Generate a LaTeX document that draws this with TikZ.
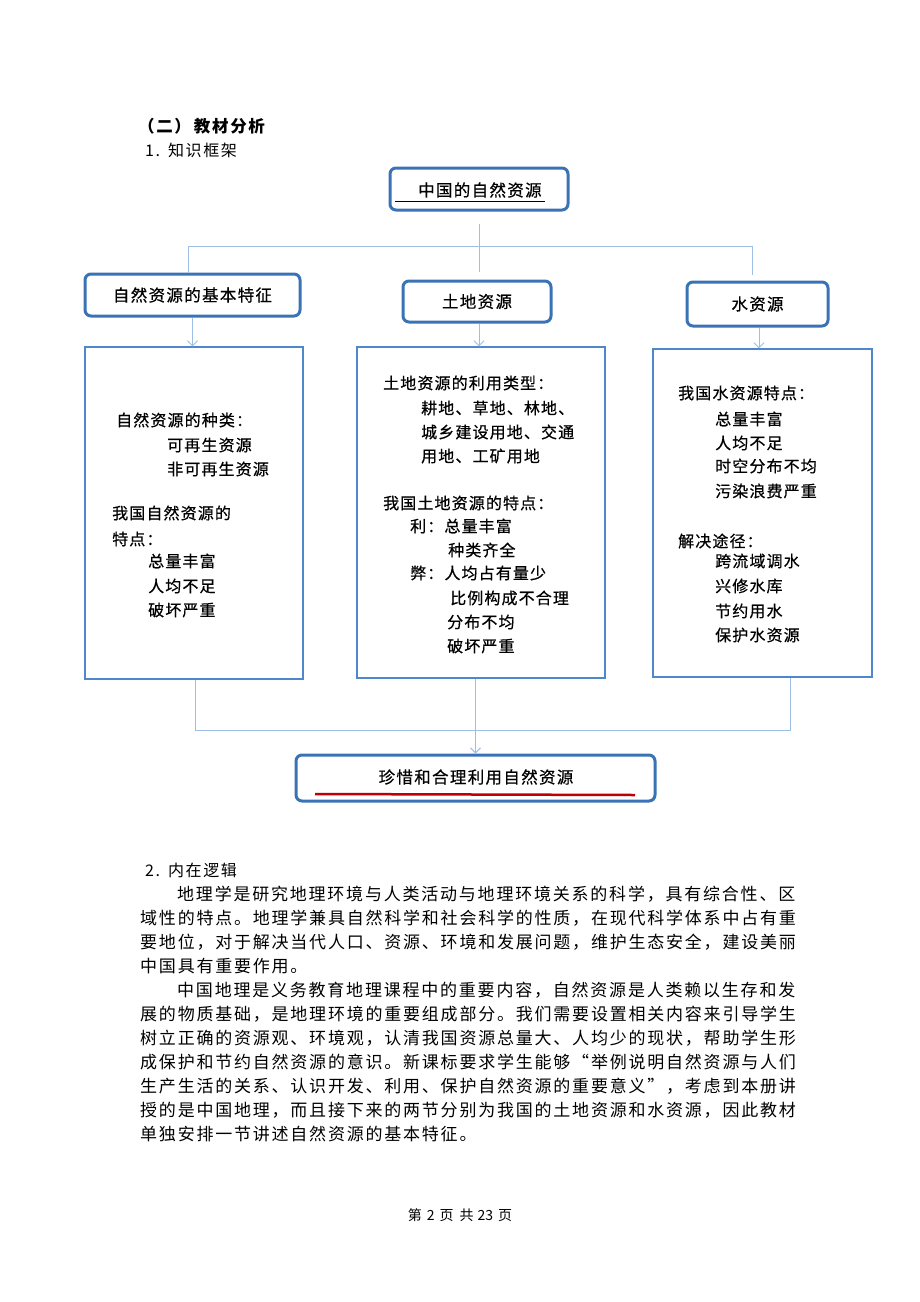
\documentclass[tikz,border=0pt]{standalone}
\usepackage{fontspec}
\setmainfont{Noto Sans CJK SC}
\newfontfamily\hdrfont[LetterSpace=8,FakeBold=0.6]{Noto Sans CJK SC}
\newfontfamily\pnlfont[LetterSpace=7,FakeBold=0.5]{Noto Sans CJK SC}
\newfontfamily\bodyfont[LetterSpace=10.5]{Noto Sans CJK SC}
\newfontfamily\ttlfont[LetterSpace=10]{Noto Sans CJK SC}
\usetikzlibrary{arrows.meta}
\definecolor{hdrblue}{HTML}{3A73B5}
\definecolor{boxblue}{HTML}{4F87CB}
\definecolor{linkblue}{HTML}{9DBFE6}
\definecolor{redline}{HTML}{C00000}
\tikzset{
  hdr/.style={draw=hdrblue, line width=3pt, rounded corners=6pt, fill=white, inner sep=0pt,
    font=\hdrfont\fontsize{16.5}{16.5}\selectfont},
  panel/.style={draw=boxblue, line width=1.4pt, inner sep=0pt},
  link/.style={draw=linkblue, line width=0.9pt},
  arr/.style={link, -{Straight Barb[length=5pt,width=10pt]}},
  ptxt/.style={anchor=west, inner sep=0pt, font=\pnlfont\fontsize{16}{16}\selectfont},
  btxt/.style={anchor=west, inner sep=0pt, font=\bodyfont\fontsize{17}{17}\selectfont},
}
\begin{document}
\begin{tikzpicture}[x=1pt,y=-1pt]
\useasboundingbox[fill=white] (0,0) rectangle (920,1302);

% headings
\node[anchor=west, inner sep=0pt, font=\ttlfont\bfseries\fontsize{16.5}{16.5}\selectfont] (h2) at (138,126) {（二）\hspace{3pt}教材分析};
\node[anchor=west, inner sep=0pt, font=\ttlfont\fontsize{16}{16}\selectfont] (h1) at (145,150) {1.\hspace{8pt}知识框架};

\coordinate (hl) at (188,246);
\coordinate (hr) at (752,246);
\coordinate (bl) at (195,730);
\coordinate (br) at (790,730);
\coordinate (am) at (479,0);
\coordinate (ar) at (759,0);

% header boxes
\node[hdr, minimum width=178pt, minimum height=42pt] (top) at (479,189) {};
\node[anchor=west, inner sep=0pt, font=\hdrfont\fontsize{16.5}{16.5}\selectfont] (toptxt) at (418,190) {中国的自然资源};
\draw[black, line width=0.9pt] (395,201) -- (545,201);

\node[hdr, minimum width=215pt, minimum height=42pt] (left) at (192.5,295) {自然资源的基本特征};
\node[hdr, minimum width=148pt, minimum height=41pt] (mid) at (477,301.5) {土地资源};
\node[hdr, minimum width=141pt, minimum height=44pt] (right) at (757.5,304) {水资源};

\draw[link] ([yshift=-12pt]top.south) -- ([yshift=8pt]mid.north -| top.south);
\draw[link] (left.north -| hl) -- (hl) -- (hr) -- ([yshift=6pt]right.north -| hr);

% panels
\node[panel, minimum width=218pt, minimum height=332pt] (pl) at (194,513) {};
\node[panel, minimum width=248pt, minimum height=331pt] (pm) at (481,512.5) {};
\node[panel, minimum width=219pt, minimum height=328pt] (pr) at (762.5,513) {};

\draw[arr] (left.south) -- (pl.north -| left.south);
\draw[arr] (mid.south -| am) -- (pm.north -| am);
\draw[arr] (right.south -| ar) -- (pr.north -| ar);

% final box
\node[hdr, minimum width=359pt, minimum height=46pt] (fin) at (475.5,778) {};
\node[inner sep=0pt, font=\hdrfont\fontsize{16.5}{16.5}\selectfont] (fintxt) at (476,777) {珍惜和合理利用自然资源};
\draw[redline, line width=2.5pt] (315,794) -- (635,795);

\draw[link] (pl.south -| bl) -- (bl) -- (br) -- (pr.south -| br);
\draw[arr] (pm.south -| fin.north) -- (fin.north);

% left panel text
\node[ptxt] (l1) at (116,420) {自然资源的种类：};
\node[ptxt] (l2) at (167,445) {可再生资源};
\node[ptxt] (l3) at (167,469) {非可再生资源};
\node[ptxt] (l4) at (112,513) {我国自然资源的};
\node[ptxt] (l5) at (112,539) {特点：};
\node[ptxt] (l6) at (148,561) {总量丰富};
\node[ptxt] (l7) at (148,586) {人均不足};
\node[ptxt] (l8) at (148,610) {破坏严重};

% middle panel text
\node[ptxt] (m1) at (383,383) {土地资源的利用类型：};
\node[ptxt] (m2) at (421,408) {耕地、草地、林地、};
\node[ptxt] (m3) at (421,432) {城乡建设用地、交通};
\node[ptxt] (m4) at (421,456) {用地、工矿用地};
\node[ptxt] (m5) at (383,503) {我国土地资源的特点：};
\node[ptxt] (m6) at (410,526) {利：总量丰富};
\node[ptxt] (m7) at (448,550) {种类齐全};
\node[ptxt] (m8) at (410,573) {弊：人均占有量少};
\node[ptxt] (m9) at (450,598) {比例构成不合理};
\node[ptxt] (m10) at (447,622) {分布不均};
\node[ptxt] (m11) at (447,646) {破坏严重};

% right panel text
\node[ptxt] (r1) at (678,393) {我国水资源特点：};
\node[ptxt] (r2) at (715,419) {总量丰富};
\node[ptxt] (r3) at (715,443) {人均不足};
\node[ptxt] (r4) at (715,466) {时空分布不均};
\node[ptxt] (r5) at (715,491) {污染浪费严重};
\node[ptxt] (r6) at (678,541) {解决途径：};
\node[ptxt] (r7) at (715,561) {跨流域调水};
\node[ptxt] (r8) at (715,586) {兴修水库};
\node[ptxt] (r9) at (715,611) {节约用水};
\node[ptxt] (r10) at (715,635) {保护水资源};

% body text
\node[anchor=west, inner sep=0pt, font=\ttlfont\fontsize{16}{16}\selectfont] (s2) at (145,870) {2.\hspace{8pt}内在逻辑};
\node[btxt] (p1) at (177,894) {地理学是研究地理环境与人类活动与地理环境关系的科学，具有综合性、区};
\node[btxt] (p2) at (140,918) {域性的特点。地理学兼具自然科学和社会科学的性质，在现代科学体系中占有重};
\node[btxt] (p3) at (140,942) {要地位，对于解决当代人口、资源、环境和发展问题，维护生态安全，建设美丽};
\node[btxt] (p4) at (140,966) {中国具有重要作用。};
\node[btxt] (p5) at (177,990) {中国地理是义务教育地理课程中的重要内容，自然资源是人类赖以生存和发};
\node[btxt] (p6) at (140,1014) {展的物质基础，是地理环境的重要组成部分。我们需要设置相关内容来引导学生};
\node[btxt] (p7) at (140,1038) {树立正确的资源观、环境观，认清我国资源总量大、人均少的现状，帮助学生形};
\node[btxt] (p8) at (140,1062) {成保护和节约自然资源的意识。新课标要求学生能够“举例说明自然资源与人们};
\node[btxt] (p9) at (140,1086) {生产生活的关系、认识开发、利用、保护自然资源的重要意义”，考虑到本册讲};
\node[btxt] (p10) at (140,1110) {授的是中国地理，而且接下来的两节分别为我国的土地资源和水资源，因此教材};
\node[btxt] (p11) at (140,1134) {单独安排一节讲述自然资源的基本特征。};

% page number
\node[inner sep=0pt, font=\fontsize{14}{14}\selectfont] (pg) at (460,1215) {第\hspace{5pt}2\hspace{5pt}页\hspace{6pt}共\hspace{4pt}23\hspace{5pt}页};
\end{tikzpicture}
\end{document}
